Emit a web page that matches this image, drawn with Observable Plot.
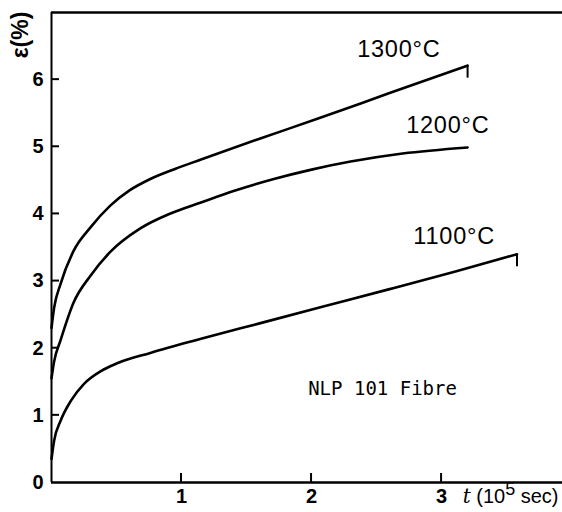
<!DOCTYPE html>
<html>
<head>
<meta charset="utf-8">
<script src="https://cdn.jsdelivr.net/npm/d3@7"></script>
<script src="https://cdn.jsdelivr.net/npm/@observablehq/plot@0.6"></script>
<style>
  body { margin: 0; background: #fff; }
  #chart svg { display: block; }
</style>
</head>
<body>
<div id="chart"></div>
<script>
// Creep strain ε (%) of NLP 101 fibre against time t (10^5 s) at three temperatures.
const temperatures = ["1300°C", "1200°C", "1100°C"];

const time1300   = [0, 0.02, 0.07, 0.17, 0.30, 0.45, 0.60, 0.76, 0.95, 1.15, 1.60, 2.05, 2.60, 3.20];
const strain1300 = [2.30, 2.60, 2.96, 3.45, 3.80, 4.12, 4.35, 4.52, 4.67, 4.81, 5.12, 5.42, 5.80, 6.21];

const time1200   = [0, 0.02, 0.07, 0.17, 0.30, 0.45, 0.68, 0.92, 1.15, 1.40, 1.71, 2.00, 2.30, 2.70, 3.20];
const strain1200 = [1.55, 1.80, 2.12, 2.68, 3.08, 3.43, 3.78, 4.01, 4.17, 4.34, 4.52, 4.66, 4.78, 4.90, 4.99];

const time1100   = [0, 0.02, 0.07, 0.15, 0.25, 0.38, 0.51, 0.76, 1.15, 1.60, 2.09, 2.60, 3.10, 3.58];
const strain1100 = [0.35, 0.62, 0.92, 1.22, 1.47, 1.66, 1.78, 1.93, 2.14, 2.37, 2.62, 2.88, 3.14, 3.40];

// Short downward strokes where the 1300 °C and 1100 °C records end
const hookSeries = ["1300°C", "1100°C"];
const hookLow    = [6.03, 3.22];

const xTickValues = [1, 2, 3];
const yTickValues = [0, 1, 2, 3, 4, 5, 6];

const noteText = "NLP 101 Fibre";
const xTitle = "t (10⁵ sec)";
const yTitle = "ε(%)";

// Long-format rows for the line mark
const seriesTimes = [time1300, time1200, time1100];
const seriesStrains = [strain1300, strain1200, strain1100];
const rows = temperatures.flatMap((T, i) =>
  seriesTimes[i].map((t, j) => ({T, t, e: seriesStrains[i][j]}))
);
const lastPoint = T => rows.filter(r => r.T === T).at(-1);
const hooks = hookSeries.map((T, i) => {
  const p = lastPoint(T);
  return {T, t: p.t, top: p.e, low: hookLow[i]};
});

// Layout
const W = 562, H = 512, ML = 51, MR = 0, MT = 12, MB = 30;
const xMax = 3.93, yMax = 7;
const xTickPx = 9, yTickPx = 8;   // inward tick lengths

// Curve labels sit relative to each curve's end point
const labelOffsets = {"1300°C": [-27, -16], "1200°C": [22, -22], "1100°C": [-22, -18]};

const font = "'Liberation Sans', Arial, Helvetica, sans-serif";

const chart = Plot.plot({
  width: W,
  height: H,
  marginLeft: ML,
  marginRight: MR,
  marginTop: MT,
  marginBottom: MB,
  style: {fontFamily: font, color: "#000", background: "#fff", overflow: "visible"},
  x: {domain: [0, xMax]},
  y: {domain: [0, yMax]},
  marks: [
    // tick labels
    Plot.axisX(xTickValues, {tickSize: 0, tickPadding: 6, tickFormat: d => String(d), fontSize: 20, fontWeight: "bold", label: null}),
    Plot.axisY(yTickValues, {tickSize: 0, tickPadding: 8, tickFormat: d => String(d), fontSize: 20, fontWeight: "bold", label: null}),
    // frame: left, bottom and top edges
    Plot.ruleX([0], {strokeWidth: 2}),
    Plot.ruleY([0], {strokeWidth: 2.4}),
    Plot.ruleY([yMax], {strokeWidth: 2.4}),
    // creep curves
    Plot.line(rows, {x: "t", y: "e", z: "T", curve: "monotone-x", strokeWidth: 2.6, stroke: "#000"}),
    Plot.link(hooks, {x1: "t", x2: "t", y1: "top", y2: "low", strokeWidth: 2, stroke: "#000"}),
    // temperature labels
    ...temperatures.map(T => Plot.text([lastPoint(T)], {
      x: "t", y: "e", text: () => T,
      textAnchor: "end", lineAnchor: "middle",
      dx: labelOffsets[T][0], dy: labelOffsets[T][1],
      fontSize: 23.5, fill: "#000"
    })),
    // specimen note
    Plot.text([noteText], {x: 2.546, y: 1.40, text: d => d, fontSize: 19,
      fontFamily: "'DejaVu Sans Mono', monospace", fill: "#000"}),
    // axis titles
    Plot.text([xTitle], {frameAnchor: "bottom-right", text: d => d, textAnchor: "end", lineAnchor: "top",
      dx: -4, dy: 6, fontSize: 20, fill: "#000"}),
    Plot.text([yTitle], {frameAnchor: "top-left", text: d => d, fontSize: 22, fontWeight: "bold", fill: "#000"})
  ]
});

// Inward tick marks, placed with the plot's own scales
const sx = chart.scale ? chart.scale("x") : null;
const sy = chart.scale ? chart.scale("y") : null;
const px = v => sx ? sx.apply(v) : ML + (v / xMax) * (W - ML - MR);
const py = v => sy ? sy.apply(v) : (H - MB) - (v / yMax) * (H - MT - MB);
const tickLayer = d3.select(chart).append("g").attr("stroke", "#000").attr("stroke-width", 2);
tickLayer.selectAll("line.xt").data(xTickValues).join("line").attr("class", "xt")
  .attr("x1", d => px(d)).attr("x2", d => px(d))
  .attr("y1", py(0)).attr("y2", py(0) - xTickPx);
tickLayer.selectAll("line.yt").data(yTickValues.filter(v => v > 0)).join("line").attr("class", "yt")
  .attr("x1", px(0)).attr("x2", px(0) + yTickPx)
  .attr("y1", d => py(d)).attr("y2", d => py(d));

const findText = s => d3.select(chart).selectAll("text").filter(function() { return this.textContent === s; });

// Slightly open spacing in the temperature labels
temperatures.forEach(T => findText(T).style("letter-spacing", "0.8px"));

// Italic t and raised exponent in the time-axis title
const xt = findText(xTitle);
xt.text(null);
xt.append("tspan").attr("font-style", "italic").attr("font-family", "'DejaVu Serif', serif").text("t");
xt.append("tspan").text(" (10");
xt.append("tspan").attr("dy", "-8px").attr("font-size", "18px").text("5");
xt.append("tspan").attr("dy", "8px").text(" sec)");

// Strain-axis title runs upward beside the top of the axis
const yt = findText(yTitle);
d3.select(yt.node().parentNode).attr("transform", null);
yt.attr("x", null).attr("y", null).attr("dy", "0.35em")
  .attr("text-anchor", "middle")
  .attr("font-size", "23px").attr("font-weight", "bold")
  .attr("transform", `translate(${ML - 31},${MT + 23}) rotate(-90)`);

document.getElementById("chart").append(chart);
</script>
</body>
</html>
